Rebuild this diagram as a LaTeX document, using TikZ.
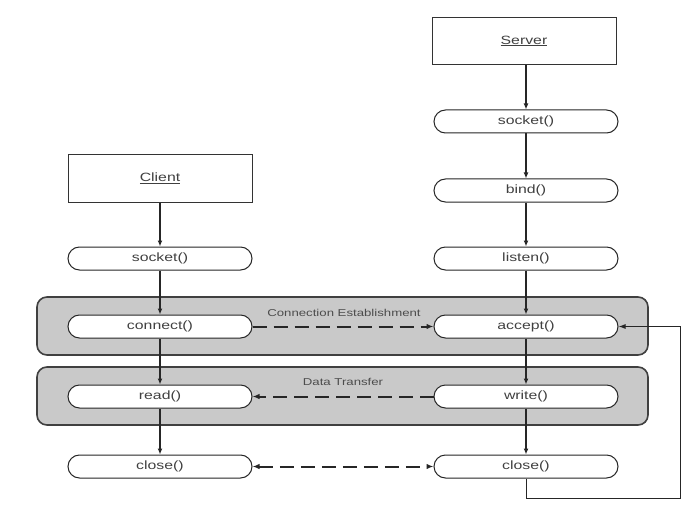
\documentclass[tikz,border=0pt]{standalone}
\usepackage{fontspec}
\usepackage{graphicx}
\setmainfont{Liberation Sans}
\usetikzlibrary{arrows.meta,calc}
\newcommand{\wtxt}[1]{\scalebox{1.32}[1]{#1}}
\tikzset{
  hdrbox/.style={draw=black!80, line width=1pt, fill=white, minimum width=184pt, minimum height=47pt, inner sep=0pt,
    text=black!75, font=\fontsize{12}{14}\selectfont},
  fnbox/.style={draw=black!85, line width=1pt, fill=white, rounded corners=11.5pt, minimum width=184pt, minimum height=23pt,
    inner sep=0pt, text=black!75, font=\fontsize{12}{14}\selectfont},
  panel/.style={draw=black!75, line width=1.6pt, fill=black!21, rounded corners=10pt, minimum width=611pt, minimum height=58pt, inner sep=0pt},
  plabel/.style={text=black!70, font=\fontsize{10}{12}\selectfont, inner sep=0pt},
  flow/.style={draw=black!85, line width=1.2pt, -{Latex[length=6pt,width=5pt]}},
  loopflow/.style={draw=black!85, line width=1pt, -{Latex[length=7pt,width=5pt]}},
  msg/.style={draw=black!85, line width=2pt, dash pattern=on 14pt off 7pt},
  tipend/.style={-{Latex[length=7pt,width=5.5pt]}},
  tipboth/.style={{Latex[length=7pt,width=5.5pt]}-{Latex[length=7pt,width=5.5pt]}}
}
\begin{document}
\begin{tikzpicture}[x=1pt,y=-1pt]
\useasboundingbox[fill=white] (0,0) rectangle (691,508);
% panels
\node[panel] (pconn) at (342.5,326) {};
\node[panel] (pdata) at (342.5,396) {};
\node[plabel] (lconn) at (344,313) {\wtxt{Connection Establishment}};
\node[plabel] (ldata) at (343,382) {\wtxt{Data Transfer}};
% server column
\node[hdrbox] (server) at (524,41) {\wtxt{\underline{Server}}};
\node[fnbox] (ssocket) at (526,121.5) {\wtxt{socket()}};
\node[fnbox] (bind) at (526,190.5) {\wtxt{bind()}};
\node[fnbox] (listen) at (526,258.5) {\wtxt{listen()}};
\node[fnbox] (accept) at (526,326.5) {\wtxt{accept()}};
\node[fnbox] (write) at (526,396.5) {\wtxt{write()}};
\node[fnbox] (sclose) at (526,466.5) {\wtxt{close()}};
% client column
\node[hdrbox] (client) at (160,178.5) {\wtxt{\underline{Client}}};
\node[fnbox] (csocket) at (160,258.5) {\wtxt{socket()}};
\node[fnbox] (connect) at (160,326.5) {\wtxt{connect()}};
\node[fnbox] (read) at (160,396.5) {\wtxt{read()}};
\node[fnbox] (cclose) at (160,466.5) {\wtxt{close()}};
% vertical flows
\draw[flow] (server.south -| ssocket.north) -- (ssocket.north);
\draw[flow] (ssocket) -- (bind);
\draw[flow] (bind) -- (listen);
\draw[flow] (listen) -- (accept);
\draw[flow] (accept) -- (write);
\draw[flow] (write) -- (sclose);
\draw[flow] (client) -- (csocket);
\draw[flow] (csocket) -- (connect);
\draw[flow] (connect) -- (read);
\draw[flow] (read) -- (cclose);
% messages
\draw[msg,tipend] (connect) -- (accept);
\draw[msg,tipend] (write) -- (read);
\draw[msg,tipboth] (cclose) -- (sclose);
% loop back
\coordinate (fb) at (680,498);
\draw[loopflow] (sclose.south) |- (fb) |- (accept.east);
\end{tikzpicture}
\end{document}
